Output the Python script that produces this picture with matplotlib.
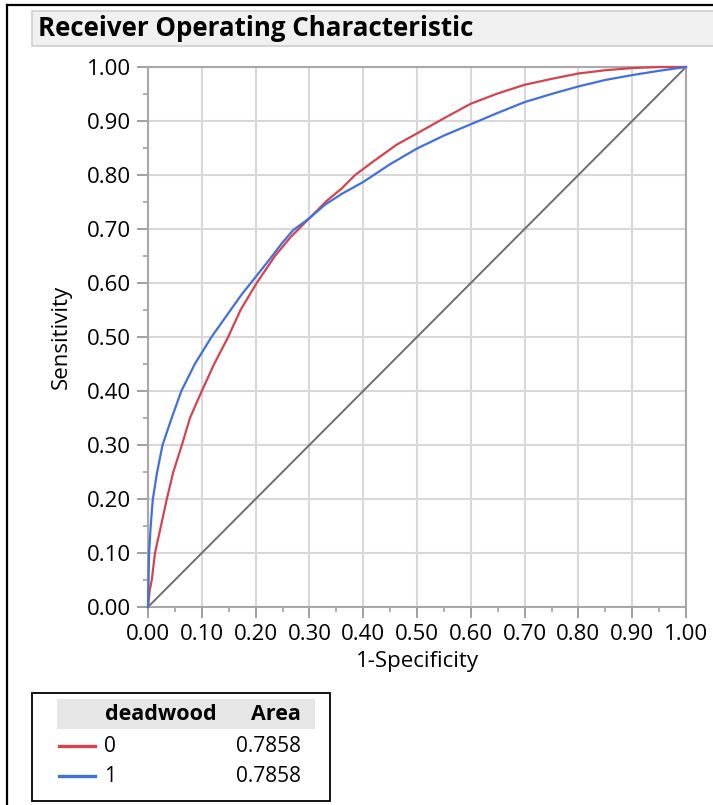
import matplotlib
matplotlib.use("Agg")
import matplotlib.pyplot as plt
from matplotlib.patches import Rectangle
from matplotlib.lines import Line2D
from matplotlib.ticker import MultipleLocator, FixedLocator

plt.rcParams['font.family'] = ['Open Sans', 'DejaVu Sans']

# ---- data ----
fpr0 = [0, 0.003, 0.007, 0.013, 0.024, 0.035, 0.047, 0.063, 0.078, 0.10, 0.123, 0.149,
        0.172, 0.202, 0.236, 0.265, 0.30, 0.332, 0.36, 0.385, 0.42, 0.462, 0.50, 0.55,
        0.60, 0.65, 0.70, 0.75, 0.80, 0.85, 0.90, 0.95, 1.0]
tpr0 = [0, 0.03, 0.05, 0.10, 0.15, 0.20, 0.25, 0.30, 0.35, 0.40, 0.45, 0.50,
        0.55, 0.60, 0.65, 0.685, 0.72, 0.752, 0.775, 0.80, 0.826, 0.856, 0.877, 0.905,
        0.932, 0.951, 0.967, 0.978, 0.988, 0.994, 0.998, 1.0, 1.0]
fpr1 = [0, 0.001, 0.002, 0.005, 0.009, 0.017, 0.027, 0.044, 0.062, 0.087, 0.118, 0.15,
        0.175, 0.20, 0.227, 0.25, 0.27, 0.30, 0.329, 0.36, 0.40, 0.45, 0.50, 0.55,
        0.60, 0.65, 0.70, 0.75, 0.80, 0.85, 0.90, 0.95, 1.0]
tpr1 = [0, 0.05, 0.10, 0.15, 0.20, 0.25, 0.30, 0.35, 0.40, 0.45, 0.50, 0.545,
        0.58, 0.611, 0.645, 0.675, 0.698, 0.72, 0.745, 0.765, 0.787, 0.82, 0.849, 0.873,
        0.894, 0.915, 0.935, 0.95, 0.964, 0.976, 0.985, 0.993, 1.0]
groups = ["0", "1"]
areas = ["0.7858", "0.7858"]
ticks = [0.0, 0.1, 0.2, 0.3, 0.4, 0.5, 0.6, 0.7, 0.8, 0.9, 1.0]
tick_labels = ["0.00", "0.10", "0.20", "0.30", "0.40", "0.50", "0.60", "0.70", "0.80", "0.90", "1.00"]

RED = "#d5434f"
BLUE = "#4170de"
colors = [RED, BLUE]

W, H = 713, 805
fig = plt.figure(figsize=(W / 100, H / 100), dpi=100)

def fx(px):
    return px / W

def fy(py):
    return 1 - py / H

# outer frame
fig.add_artist(Line2D([fx(7), fx(7)], [fy(5), fy(805)], color="black", lw=1.6,
                      transform=fig.transFigure))
fig.add_artist(Line2D([fx(7), fx(713)], [fy(5), fy(5)], color="black", lw=1.6,
                      transform=fig.transFigure))

# title bar
fig.add_artist(Rectangle((fx(32), fy(46)), fx(713) - fx(32) + 0.01, fy(11) - fy(46),
                         transform=fig.transFigure, facecolor="#f0f0f0",
                         edgecolor="#cfcfcf", lw=1.2))
fig.text(fx(38), fy(29), "Receiver Operating Characteristic", fontsize=18.6,
         fontweight="bold", ha="left", va="center")

# main axes
L, R, T, B = 148, 686, 67, 607
ax = fig.add_axes([fx(L), fy(B), fx(R) - fx(L), fy(T) - fy(B)])
ax.set_xlim(0, 1)
ax.set_ylim(0, 1)
ax.xaxis.set_major_locator(FixedLocator(ticks))
ax.yaxis.set_major_locator(FixedLocator(ticks))
ax.set_xticklabels(tick_labels)
ax.set_yticklabels(tick_labels)
ax.xaxis.set_minor_locator(MultipleLocator(0.05))
ax.yaxis.set_minor_locator(MultipleLocator(0.05))
ax.grid(True, which="major", color="#d8d8d8", lw=1.5)
ax.set_axisbelow(True)
for s in ax.spines.values():
    s.set_color("#a8a8a8")
    s.set_linewidth(1.5)
ax.tick_params(which="major", length=8, width=1.4, color="#a0a0a0", labelsize=16, pad=4)
ax.tick_params(which="minor", length=3.5, width=1.2, color="#a0a0a0")

ax.plot([0, 1], [0, 1], color="#6e6e6e", lw=1.4, zorder=2)
ax.plot(fpr0, tpr0, color=RED, lw=1.6, zorder=3, clip_on=False)
ax.plot(fpr1, tpr1, color=BLUE, lw=1.6, zorder=4, clip_on=False)

fig.text(fx(417), fy(661), "1-Specificity", fontsize=16, ha="center", va="center")
fig.text(fx(61), fy(337), "Sensitivity", fontsize=16, ha="center", va="center", rotation=90)

# legend table
fig.add_artist(Rectangle((fx(32), fy(801)), fx(330) - fx(32), fy(693) - fy(801),
                         transform=fig.transFigure, facecolor="white",
                         edgecolor="black", lw=1.3))
fig.add_artist(Rectangle((fx(57), fy(729)), fx(315) - fx(57), fy(699) - fy(729),
                         transform=fig.transFigure, facecolor="#e6e6e6",
                         edgecolor="none"))
fig.text(fx(105), fy(714), "deadwood", fontsize=15.5, fontweight="bold", ha="left", va="center")
fig.text(fx(301), fy(714), "Area", fontsize=15.5, fontweight="bold", ha="right", va="center")
for i, (g, a, c) in enumerate(zip(groups, areas, colors)):
    yy = 746 + 30 * i
    fig.add_artist(Line2D([fx(59), fx(95)], [fy(yy), fy(yy)], color=c, lw=2.4,
                          transform=fig.transFigure))
    fig.text(fx(104), fy(yy), g, fontsize=15, ha="left", va="center")
    fig.text(fx(301), fy(yy), a, fontsize=15, ha="right", va="center")

fig.savefig("out.png", dpi=100)
